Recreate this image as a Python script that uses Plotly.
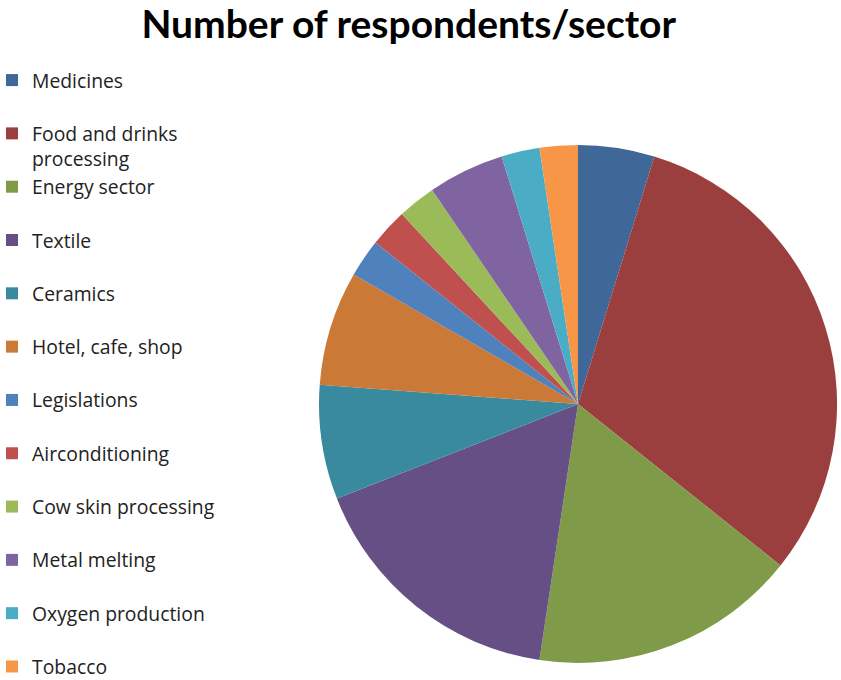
import plotly.graph_objects as go

sectors = ["Medicines", "Food and drinks<br>processing", "Energy sector", "Textile", "Ceramics",
           "Hotel, cafe, shop", "Legislations", "Airconditioning", "Cow skin processing",
           "Metal melting", "Oxygen production", "Tobacco"]
respondents = [2, 13, 7, 7, 3, 3, 1, 1, 1, 2, 1, 1]
colors = ["#3F6798", "#9B3F3E", "#7F9A48", "#664F84", "#3A8A9F", "#CA7A36",
          "#4F81BD", "#C0504D", "#9BBB59", "#8064A2", "#4BACC6", "#F79646"]

# pad single-line labels so every legend entry occupies two lines (except last)
legend_labels = []
for i, s in enumerate(sectors):
    if "<br>" in s or i == len(sectors) - 1:
        legend_labels.append(s)
    else:
        legend_labels.append(s + "<br> ")

fig = go.Figure(go.Pie(
    labels=legend_labels,
    values=respondents,
    sort=False,
    direction="clockwise",
    rotation=0,
    marker=dict(colors=colors, line=dict(width=0)),
    textinfo="none",
    hoverinfo="label+value",
    domain=dict(x=[0.3793, 0.9953], y=[0.025, 0.7868]),
))

fig.update_layout(
    width=841, height=680,
    margin=dict(l=0, r=0, t=0, b=0, autoexpand=False),
    paper_bgcolor="white",
    font=dict(family="Open Sans", color="#000000"),
    title=dict(text="<b>Number of respondents/sector</b>", x=0.486, xanchor="center",
               y=1 - 24 / 680, yanchor="middle", yref="container",
               font=dict(family="Lato", size=39, color="#000000")),
    legend=dict(x=-0.0095, xanchor="left", y=1 - 61 / 680, yanchor="top",
                valign="top", font=dict(family="Open Sans", size=19.35, color="#222222"),
                bgcolor="rgba(0,0,0,0)", traceorder="normal"),
)

fig.write_html("out.html",
               config={"displayModeBar": False},
               post_script="document.body.style.margin='0';document.body.style.overflow='hidden';")
